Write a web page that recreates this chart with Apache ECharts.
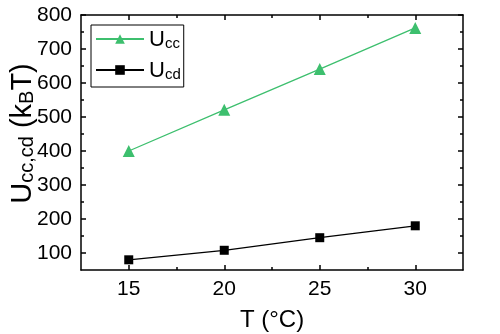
<!DOCTYPE html>
<html>
<head>
<meta charset="utf-8">
<script src="https://cdn.jsdelivr.net/npm/echarts@6/dist/echarts.min.js"></script>
<style>
  html, body { margin: 0; padding: 0; background: #fff; }
  #chart { width: 500px; height: 334px; }
</style>
</head>
<body>
<div id="chart"></div>
<script>
var temps = [15, 20, 25, 30];
var ucc = [400, 521, 641, 762];
var ucd = [80, 108, 145, 180];
var xMajor = [15, 20, 25, 30];
var xMinor = [17.5, 22.5, 27.5];
var yMajor = [100, 200, 300, 400, 500, 600, 700, 800];
var yMinor = [150, 250, 350, 450, 550, 650, 750];

var font = 'Liberation Sans, Arial, sans-serif';
var green = '#3dbf6e';

function pairs(ys) {
    var out = [];
    for (var i = 0; i < temps.length; i++) {
        out.push([temps[i], ys[i]]);
    }
    return out;
}

function xAx(pos, ticks, len, labels, line) {
    return {
        type: 'value', position: pos, min: 12.5, max: 32.5,
        axisLine: { show: line, lineStyle: { color: '#000', width: 1.5 } },
        axisTick: { show: true, inside: true, length: len, customValues: ticks, lineStyle: { color: '#000', width: 1.5 } },
        axisLabel: { show: labels, customValues: ticks, margin: 9, color: '#000', fontSize: 21, fontFamily: font },
        splitLine: { show: false }
    };
}

function yAx(pos, ticks, len, labels, line) {
    return {
        type: 'value', position: pos, min: 50, max: 800,
        axisLine: { show: line, lineStyle: { color: '#000', width: 1.5 } },
        axisTick: { show: true, inside: true, length: len, customValues: ticks, lineStyle: { color: '#000', width: 1.5 } },
        axisLabel: { show: labels, customValues: ticks, margin: 9, color: '#000', fontSize: 21, fontFamily: font },
        splitLine: { show: false }
    };
}

var xAxes = [
    xAx('bottom', xMajor, 5, true, true),
    xAx('bottom', xMinor, 3, false, false),
    xAx('top', xMajor, 5, false, true),
    xAx('top', xMinor, 3, false, false)
];
xAxes[0].name = 'T (°C)';
xAxes[0].nameLocation = 'middle';
xAxes[0].nameGap = 38;
xAxes[0].nameTextStyle = { color: '#000', fontSize: 24, fontFamily: font };

var yAxes = [
    yAx('left', yMajor, 5, true, true),
    yAx('left', yMinor, 3, false, false),
    yAx('right', yMajor, 5, false, true),
    yAx('right', yMinor, 3, false, false)
];
yAxes[0].name = '{m|U}{s|cc,cd}{m| (k}{s|B}{m|T)}';
yAxes[0].nameLocation = 'middle';
yAxes[0].nameGap = 44;
yAxes[0].nameMoveOverlap = false;
yAxes[0].nameTextStyle = {
    color: '#000', fontFamily: font, padding: [0, 0, 0, 18],
    rich: {
        m: { fontSize: 29, color: '#000', fontFamily: font, verticalAlign: 'bottom', lineHeight: 31 },
        s: { fontSize: 20, color: '#000', fontFamily: font, verticalAlign: 'bottom', lineHeight: 22 }
    }
};

var chart = echarts.init(document.getElementById('chart'));
chart.setOption({
    animation: false,
    grid: { left: 81, right: 37, top: 15, bottom: 64, outerBoundsMode: 'none' },
    xAxis: xAxes,
    yAxis: yAxes,
    legend: {
        orient: 'vertical', left: 91, top: 25,
        borderColor: '#000', borderWidth: 1, padding: [4, 3, 5, 4],
        itemWidth: 48, itemHeight: 12, itemGap: 9,
        data: ['Ucc', 'Ucd'],
        formatter: function (name) {
            return '{m|U}{s|' + name.slice(1) + '}';
        },
        textStyle: {
            rich: {
                m: { fontSize: 22, color: '#000', fontFamily: font, verticalAlign: 'bottom', lineHeight: 24 },
                s: { fontSize: 15, color: '#000', fontFamily: font, verticalAlign: 'bottom', lineHeight: 18 }
            }
        }
    },
    series: [
        {
            name: 'Ucc', type: 'line', data: pairs(ucc),
            symbol: 'triangle', symbolSize: 12,
            itemStyle: { color: green }, lineStyle: { color: green, width: 1.3 }
        },
        {
            name: 'Ucd', type: 'line', data: pairs(ucd),
            symbol: 'rect', symbolSize: 9,
            itemStyle: { color: '#000' }, lineStyle: { color: '#000', width: 1.3 }
        }
    ]
});
</script>
</body>
</html>
